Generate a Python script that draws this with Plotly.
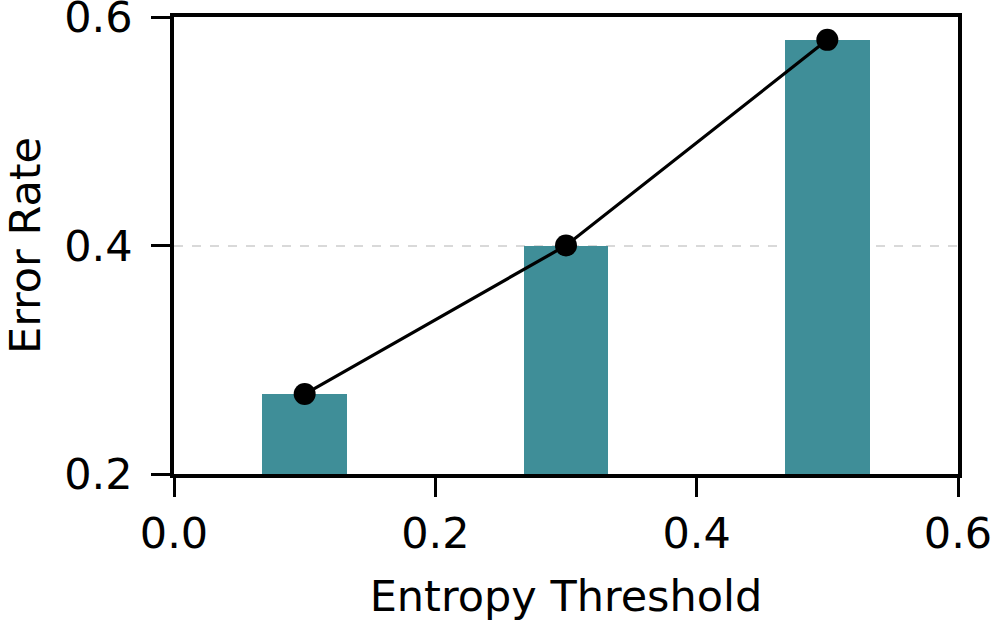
import plotly.graph_objects as go

thresholds = [0.1, 0.3, 0.5]
error_rates = [0.27, 0.40, 0.58]
x_ticks = [0.0, 0.2, 0.4, 0.6]
x_tick_labels = ["0.0", "0.2", "0.4", "0.6"]
y_ticks = [0.2, 0.4, 0.6]
y_tick_labels = ["0.2", "0.4", "0.6"]
x_title = "Entropy Threshold"
y_title = "Error Rate"

font_family = "DejaVu Sans"
fs = 43

fig = go.Figure()
fig.add_trace(go.Bar(
    x=thresholds, y=error_rates, width=0.065,
    marker=dict(color="#3f8e98", line=dict(width=0)),
    showlegend=False,
))
fig.add_trace(go.Scatter(
    x=thresholds, y=error_rates, mode="lines+markers",
    line=dict(color="black", width=3.2),
    marker=dict(color="black", size=22),
    showlegend=False, cliponaxis=False,
))

fig.update_layout(
    width=994, height=621,
    margin=dict(l=174, r=36, t=17, b=147, autoexpand=False),
    plot_bgcolor="white", paper_bgcolor="white",
    font=dict(family=font_family, size=fs, color="black"),
    bargap=0,
)
fig.update_xaxes(
    range=[0, 0.6], tickmode="array", tickvals=x_ticks, ticktext=x_tick_labels,
    ticks="outside", ticklen=19, tickwidth=3, tickcolor="black",
    showline=True, linewidth=3.5, linecolor="black", mirror=True,
    showgrid=False, zeroline=False, automargin=True,
    ticklabeloverflow="allow",
    title=dict(text=x_title, font=dict(size=fs), standoff=28),
)
fig.update_yaxes(
    range=[0.2, 0.6], tickmode="array", tickvals=y_ticks, ticktext=y_tick_labels,
    ticks="outside", ticklen=19, tickwidth=3, tickcolor="black",
    showline=True, linewidth=3.5, linecolor="black", mirror=True,
    showgrid=True, gridcolor="#d9d9d9", gridwidth=2, griddash="dash",
    zeroline=False, automargin=True,
    ticklabeloverflow="allow", ticklabelstandoff=10,
    title=dict(text=y_title, font=dict(size=fs), standoff=30),
)

fig.write_html(
    "out.html",
    config={"displayModeBar": False},
    post_script="document.body.style.margin='0px';document.body.style.padding='0px';",
)
